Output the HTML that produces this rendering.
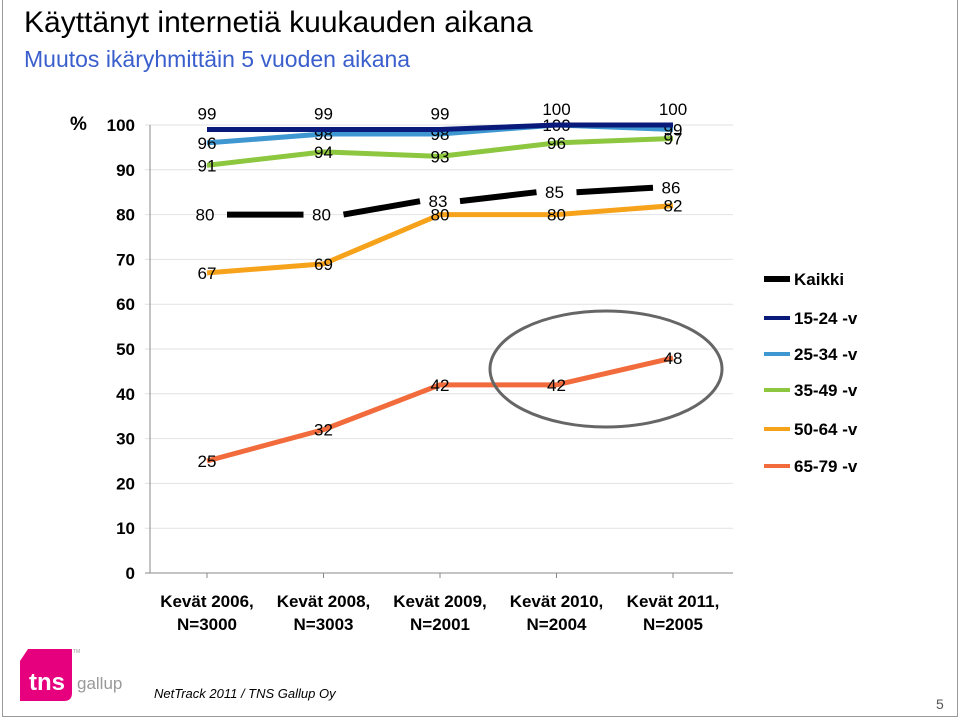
<!DOCTYPE html>
<html><head><meta charset="utf-8"><style>
body{margin:0;background:#fff;font-family:"Liberation Sans",sans-serif}
#wrap{position:relative;width:960px;height:719px;overflow:hidden}
.t{position:absolute;left:24px;white-space:nowrap}
</style></head><body>
<div id="wrap">
<div style="position:absolute;left:2px;top:-2px;width:954px;height:718px;border:1px solid #999;border-top:none"></div>
<div class="t" style="top:6px;font-size:30px;color:#000">Käyttänyt internetiä kuukauden aikana</div>
<div class="t" style="top:46px;font-size:23px;color:#3a5fcd">Muutos ikäryhmittäin 5 vuoden aikana</div>
<svg id="chart" width="960" height="719" style="position:absolute;left:0;top:0"></svg>
<svg width="120" height="60" style="position:absolute;left:16px;top:645px">
<path d="M12 4 H56 V48 Q56 56 48 56 H4 V16 Z" fill="#e6007e"/>
<text x="13" y="45" font-family="Liberation Sans" font-weight="bold" font-size="24" fill="#fff">tns</text>
<text x="61" y="44" font-family="Liberation Sans" font-size="17" fill="#999">gallup</text>
<text x="57" y="8" font-size="5" fill="#999">TM</text>
</svg>
<div style="position:absolute;left:154px;top:686px;font-size:13px;font-style:italic">NetTrack 2011 / TNS Gallup Oy</div>
<div style="position:absolute;left:936px;top:696px;font-size:14px;color:#555">5</div>
</div>
<script>
const categories=[["Kevät 2006,","N=3000"],["Kevät 2008,","N=3003"],["Kevät 2009,","N=2001"],["Kevät 2010,","N=2004"],["Kevät 2011,","N=2005"]];
const seriesNames=["Kaikki","15-24 -v","25-34 -v","35-49 -v","50-64 -v","65-79 -v"];
const kaikki=[80,80,83,85,86];
const s1524=[99,99,99,100,100];
const s2534=[96,98,98,100,99];
const s3549=[91,94,93,96,97];
const s5064=[67,69,80,80,82];
const s6579=[25,32,42,42,48];
const yTicks=[0,10,20,30,40,50,60,70,80,90,100];
const colors=["#000","#0a1a7a","#3e97d0","#8dc63f","#f7a21b","#f26b3c"];
const NS="http://www.w3.org/2000/svg";
const svg=document.getElementById('chart');
const x0=207,dx=116.5,yBase=573,yTop=125;
const X=i=>x0+i*dx;
const Y=v=>yBase-(v/100)*(yBase-yTop);
function mk(t,a){const e=document.createElementNS(NS,t);for(const k in a)e.setAttribute(k,a[k]);svg.appendChild(e);return e;}
yTicks.forEach(v=>{
 const g=mk('line',{x1:145,x2:733,y1:Y(v),y2:Y(v),stroke:v===0?'#888':'#e2e2e2','stroke-width':1});
 
 
 const t=mk('text',{x:135,y:Y(v)+6,'text-anchor':'end','font-size':17,'font-weight':'bold'});t.textContent=v;
 
 
});
const ax=mk('line',{x1:150,x2:150,y1:yTop,y2:yBase,stroke:'#888'});


const pc=mk('text',{x:70,y:130,'font-size':19,'font-weight':'bold'});pc.textContent='%';


categories.forEach((c,i)=>{
 const tk=mk('line',{x1:X(i),x2:X(i),y1:yBase,y2:yBase+5,stroke:'#888'});
 
 
 c.forEach((s,j)=>{const t=mk('text',{x:X(i),y:607+j*23,'text-anchor':'middle','font-size':17,'font-weight':'bold'});t.textContent=s;
 
 });
});
const all=[kaikki,s1524,s2534,s3549,s5064,s6579];
const widths=[6,5,5,5,5,5];
const lblOff=[[ -2,6],[0,-10],[0,6],[0,6],[0,6],[0,6]];
[5,4,3,2,1,0].forEach(k=>{
 const d=all[k];
 if(k===0){
  for(let i=0;i<d.length-1;i++){
   const l=mk('line',{x1:X(i)+20,y1:Y(d[i]),x2:X(i+1)-20,y2:Y(d[i+1]),stroke:colors[0],'stroke-width':6});
   
   
  }
 } else {
  const pts=d.map((v,i)=>X(i)+','+Y(v));
  const p=mk('polyline',{points:pts.join(' '),fill:'none',stroke:colors[k],'stroke-width':widths[k],'stroke-linejoin':'round'});
  
  
 }
 d.forEach((v,i)=>{
  const t=mk('text',{x:X(i)+lblOff[k][0],y:Y(v)+lblOff[k][1],'text-anchor':'middle','font-size':17});
  t.textContent=v;
  
  
 });
});
const el=mk('ellipse',{cx:606,cy:369,rx:116,ry:58,fill:'none',stroke:'#666','stroke-width':3});


const legY=[279,318,354,390,429,466];
seriesNames.forEach((n,k)=>{
 const l=mk('line',{x1:764,x2:790,y1:legY[k],y2:legY[k],stroke:colors[k],'stroke-width':k===0?6:4});
 
 
 const t=mk('text',{x:794,y:legY[k]+6,'font-size':17,'font-weight':'bold'});t.textContent=n;
 
 
});
</script>
</body></html>
